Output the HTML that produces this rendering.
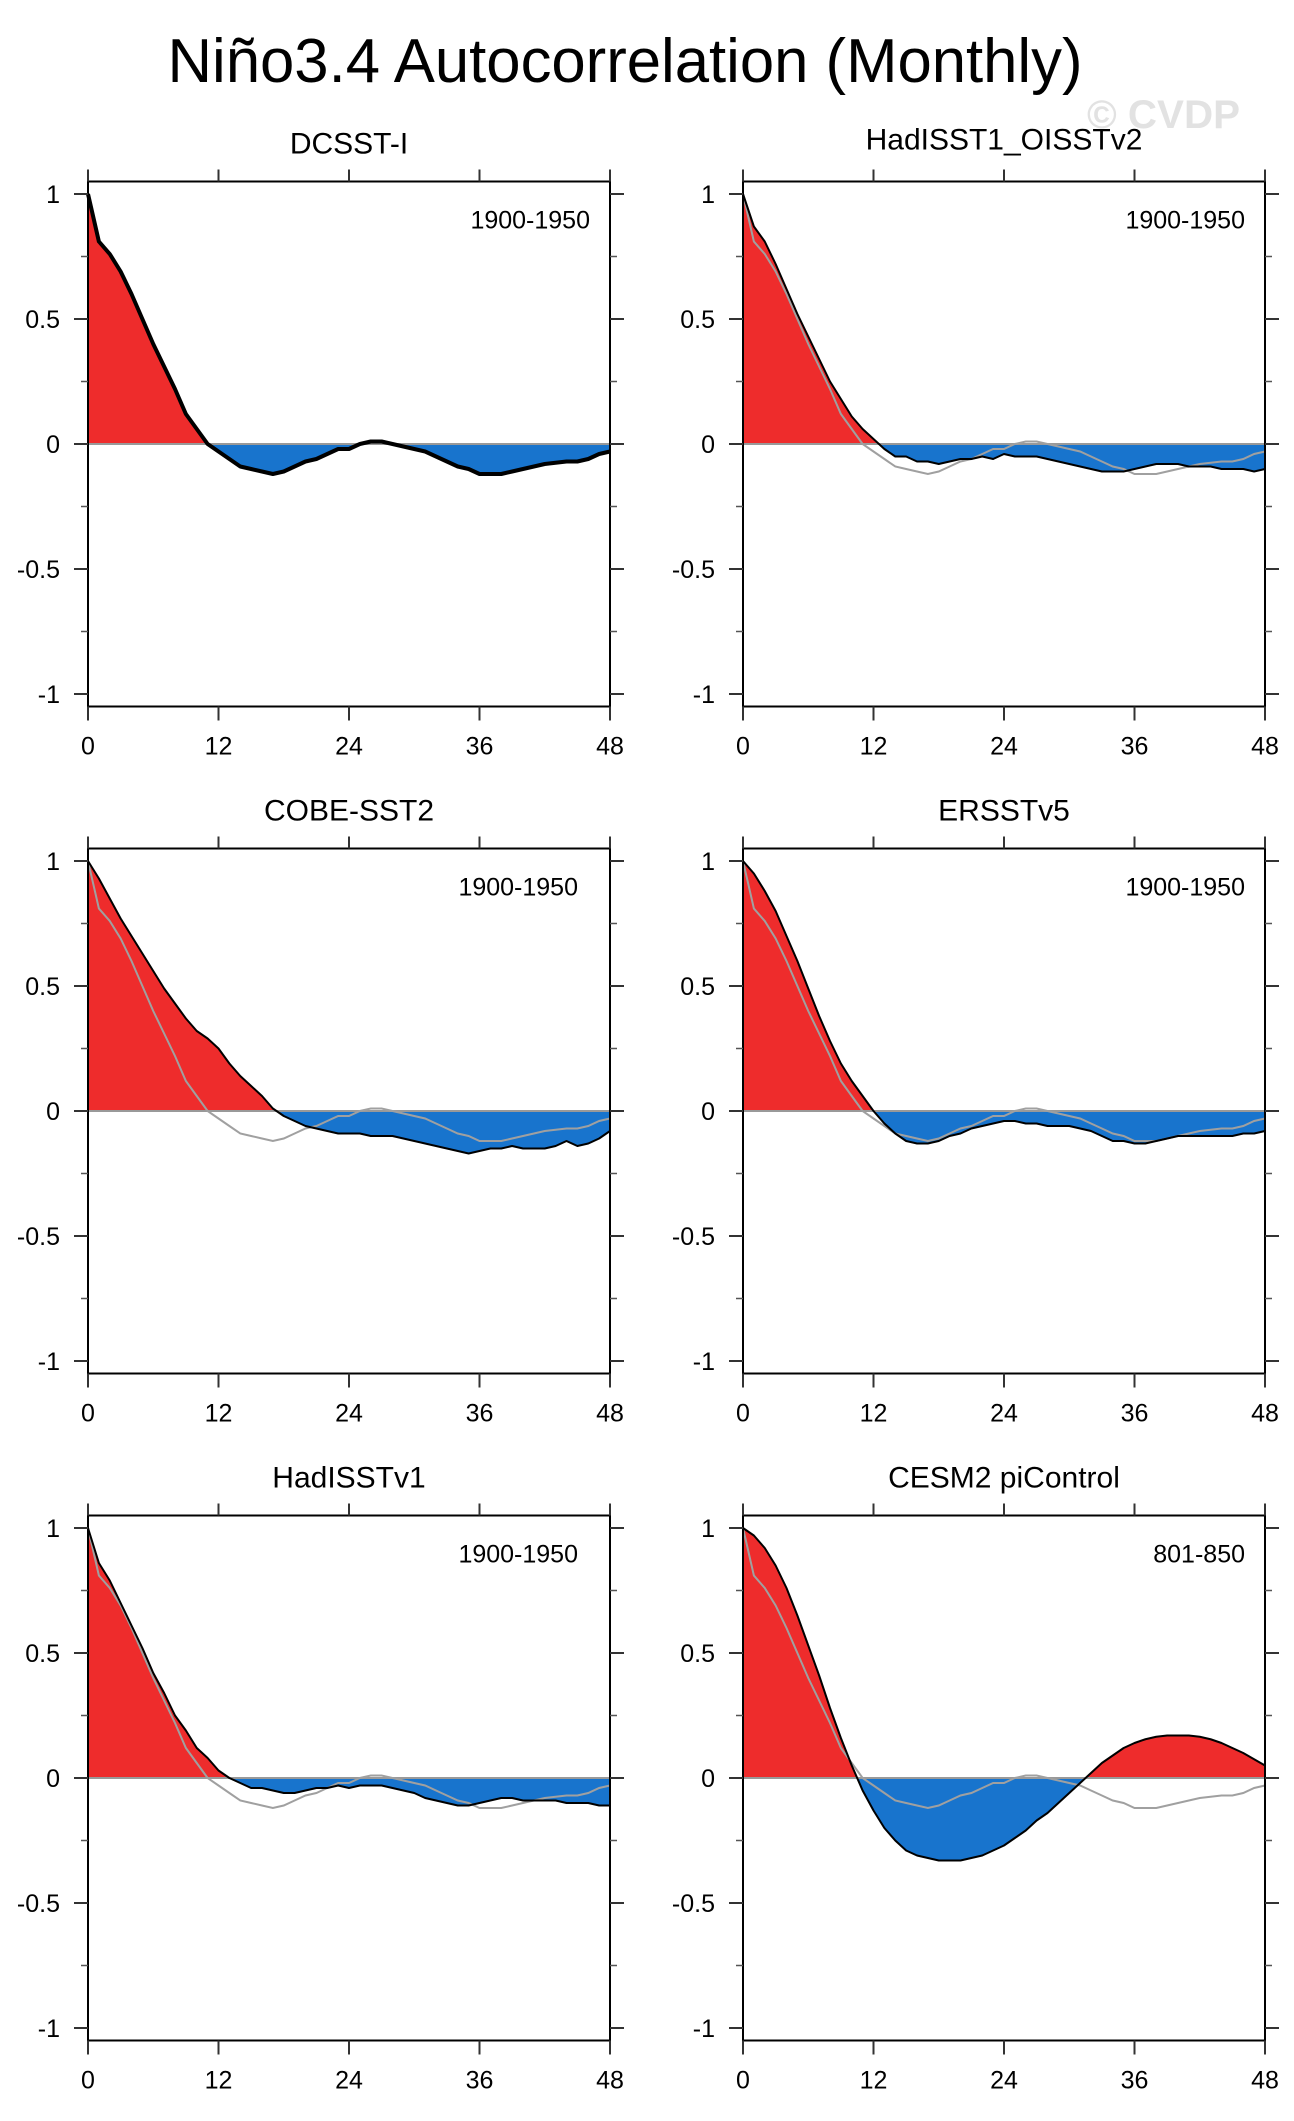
<!DOCTYPE html>
<html><head><meta charset="utf-8"><style>
html,body{margin:0;padding:0;background:#fff;}
svg{display:block;font-family:"Liberation Sans",sans-serif;}
</style></head><body>
<svg id="fig" width="1294" height="2121" viewBox="0 0 1294 2121" xmlns="http://www.w3.org/2000/svg">
<text x="625" y="82" font-size="62" text-anchor="middle" textLength="915" lengthAdjust="spacingAndGlyphs">Niño3.4 Autocorrelation (Monthly)</text>
<text x="1087" y="128" font-size="40" font-weight="bold" fill="#e2e2e2" textLength="153" lengthAdjust="spacingAndGlyphs">© CVDP</text>
</svg>
<script>
const lags = Array.from({length:49},(_,i)=>i);
const xTicks = [0,12,24,36,48];
const yTicks = [1,0.5,0,-0.5,-1];
const yTickLabels = ["1","0.5","0","-0.5","-1"];
const yMinor = [0.75,0.25,-0.25,-0.75];
const panelTitles = ["DCSST-I","HadISST1_OISSTv2","COBE-SST2","ERSSTv5","HadISSTv1","CESM2 piControl"];
const panelYears = ["1900-1950","1900-1950","1900-1950","1900-1950","1900-1950","801-850"];
const dcsst = [1.0,0.81,0.76,0.69,0.60,0.50,0.40,0.31,0.22,0.12,0.06,0.0,-0.03,-0.06,-0.09,-0.10,-0.11,-0.12,-0.11,-0.09,-0.07,-0.06,-0.04,-0.02,-0.02,0.0,0.01,0.01,0.0,-0.01,-0.02,-0.03,-0.05,-0.07,-0.09,-0.10,-0.12,-0.12,-0.12,-0.11,-0.10,-0.09,-0.08,-0.075,-0.07,-0.07,-0.06,-0.04,-0.03];
const hadOi = [1,0.87,0.81,0.72,0.62,0.52,0.43,0.34,0.25,0.18,0.11,0.06,0.02,-0.02,-0.05,-0.05,-0.07,-0.07,-0.08,-0.07,-0.06,-0.06,-0.05,-0.06,-0.04,-0.05,-0.05,-0.05,-0.06,-0.07,-0.08,-0.09,-0.10,-0.11,-0.11,-0.11,-0.10,-0.09,-0.08,-0.08,-0.08,-0.09,-0.09,-0.09,-0.10,-0.10,-0.10,-0.11,-0.10];
const cobe = [1,0.93,0.85,0.77,0.70,0.63,0.56,0.49,0.43,0.37,0.32,0.29,0.25,0.19,0.14,0.10,0.06,0.01,-0.02,-0.04,-0.06,-0.07,-0.08,-0.09,-0.09,-0.09,-0.10,-0.10,-0.10,-0.11,-0.12,-0.13,-0.14,-0.15,-0.16,-0.17,-0.16,-0.15,-0.15,-0.14,-0.15,-0.15,-0.15,-0.14,-0.12,-0.14,-0.13,-0.11,-0.08];
const ersst = [1,0.95,0.88,0.80,0.70,0.60,0.49,0.38,0.28,0.19,0.12,0.06,0.0,-0.05,-0.09,-0.12,-0.13,-0.13,-0.12,-0.10,-0.09,-0.07,-0.06,-0.05,-0.04,-0.04,-0.05,-0.05,-0.06,-0.06,-0.06,-0.07,-0.08,-0.10,-0.12,-0.12,-0.13,-0.13,-0.12,-0.11,-0.10,-0.10,-0.10,-0.10,-0.10,-0.10,-0.09,-0.09,-0.08];
const hadV1 = [1,0.86,0.79,0.70,0.61,0.52,0.42,0.34,0.25,0.19,0.12,0.08,0.03,0.0,-0.02,-0.04,-0.04,-0.05,-0.06,-0.06,-0.05,-0.04,-0.04,-0.03,-0.04,-0.03,-0.03,-0.03,-0.04,-0.05,-0.06,-0.08,-0.09,-0.10,-0.11,-0.11,-0.10,-0.09,-0.08,-0.08,-0.09,-0.09,-0.09,-0.09,-0.10,-0.10,-0.10,-0.11,-0.11];
const cesm = [1,0.97,0.92,0.85,0.76,0.65,0.53,0.41,0.28,0.16,0.05,-0.05,-0.13,-0.20,-0.25,-0.29,-0.31,-0.32,-0.33,-0.33,-0.33,-0.32,-0.31,-0.29,-0.27,-0.24,-0.21,-0.17,-0.14,-0.10,-0.06,-0.02,0.02,0.06,0.09,0.12,0.14,0.155,0.165,0.17,0.17,0.17,0.165,0.155,0.14,0.12,0.10,0.075,0.05];
const series = [dcsst,hadOi,cobe,ersst,hadV1,cesm];

const NS="http://www.w3.org/2000/svg";
const svg=document.getElementById('fig');
function mk(tag,attrs,parent){const e=document.createElementNS(NS,tag);for(const k in attrs)e.setAttribute(k,attrs[k]);(parent||svg).appendChild(e);return e;}
const W=522, colX=[88,743], rowY0=[444,1111,1778], UNIT=250;
const yearRight=[20,20,32,20,32,20];

series.forEach((vals,p)=>{
  const col=p%2,row=Math.floor(p/2);
  const L=colX[col],R=L+W,Y0=rowY0[row];
  const sx=v=>L+v/48*W, sy=v=>Y0-v*UNIT;
  const top=sy(1.05),bot=sy(-1.05);
  const g=mk('g',{});
  
  
  const cp='clip'+p;
  const defs=mk('defs',{},g);
  const c1=mk('clipPath',{id:cp+'a'},defs);mk('rect',{x:L,y:top,width:W,height:Y0-top},c1);
  const c2=mk('clipPath',{id:cp+'b'},defs);mk('rect',{x:L,y:Y0,width:W,height:bot-Y0},c2);
  let d='M'+sx(0)+','+Y0;
  lags.forEach(i=>{d+=' L'+sx(i).toFixed(2)+','+sy(vals[i]).toFixed(2);});
  d+=' L'+sx(48)+','+Y0+' Z';
  const fr=mk('path',{d:d,fill:'#ee2c2c','clip-path':'url(#'+cp+'a)'},g);
  
  
  const fb=mk('path',{d:d,fill:'#1874cd','clip-path':'url(#'+cp+'b)'},g);
  
  
  const zl=mk('line',{x1:L,x2:R+14,y1:Y0,y2:Y0,stroke:'#999','stroke-width':2},g);
  
  
  if(p>0){
    const gp=mk('polyline',{points:lags.map(i=>sx(i).toFixed(2)+','+sy(dcsst[i]).toFixed(2)).join(' '),fill:'none',stroke:'#a0a0a0','stroke-width':2},g);
    
    
  }
  const ml=mk('polyline',{points:lags.map(i=>sx(i).toFixed(2)+','+sy(vals[i]).toFixed(2)).join(' '),fill:'none',stroke:'#000','stroke-width':p===0?4:2,'stroke-linejoin':'round'},g);
  
  
  const fm=mk('rect',{x:L,y:top,width:W,height:bot-top,fill:'none',stroke:'#000','stroke-width':2},g);
  
  
  xTicks.forEach(t=>{
    mk('line',{x1:sx(t),x2:sx(t),y1:top,y2:top-12,stroke:'#333','stroke-width':2},g);
    mk('line',{x1:sx(t),x2:sx(t),y1:bot,y2:bot+14,stroke:'#333','stroke-width':2},g);
    const tl=mk('text',{x:sx(t),y:bot+48,'font-size':25,'text-anchor':'middle'},g);
    tl.textContent=t;
    
    
  });
  yTicks.forEach((t,k)=>{
    mk('line',{x1:L,x2:L-14,y1:sy(t),y2:sy(t),stroke:'#333','stroke-width':2},g);
    mk('line',{x1:R,x2:R+14,y1:sy(t),y2:sy(t),stroke:'#333','stroke-width':2},g);
    const tl=mk('text',{x:L-28,y:sy(t)+9,'font-size':25,'text-anchor':'end'},g);
    tl.textContent=yTickLabels[k];
    
    
  });
  yMinor.forEach(t=>{
    mk('line',{x1:L,x2:L-7,y1:sy(t),y2:sy(t),stroke:'#555','stroke-width':1.5},g);
    mk('line',{x1:R,x2:R+7,y1:sy(t),y2:sy(t),stroke:'#555','stroke-width':1.5},g);
  });
  const tt=mk('text',{x:L+W/2,y:top-(col===1&&row===0?32:28),'font-size':30,'text-anchor':'middle'},g);
  tt.textContent=panelTitles[p];
  
  
  const yr=mk('text',{x:R-yearRight[p],y:top+47,'font-size':25,'text-anchor':'end'},g);
  yr.textContent=panelYears[p];
  
  
});
</script>
</body></html>
